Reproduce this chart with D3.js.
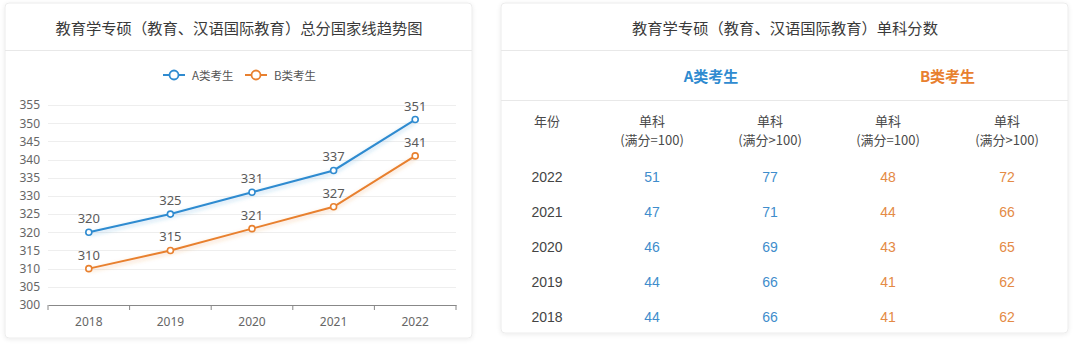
<!DOCTYPE html>
<html><head><meta charset="utf-8">
<script src="https://cdn.jsdelivr.net/npm/d3@7"></script>
<style>
html,body{margin:0;padding:0;background:#fff;}
svg{display:block;font-family:"Noto Sans CJK SC","Noto Sans",sans-serif;}
</style></head><body>
<svg id="c" width="1080" height="347"></svg>
<script>
const years = ["2018","2019","2020","2021","2022"];
const seriesA = [320,325,331,337,351];
const seriesB = [310,315,321,327,341];
const yTicks = [300,305,310,315,320,325,330,335,340,345,350,355];
const tableYears = ["2022","2021","2020","2019","2018"];
const aSingle100 = [51,47,46,44,44];
const aSingleOver = [77,71,69,66,66];
const bSingle100 = [48,44,43,41,41];
const bSingleOver = [72,66,65,62,62];
const leftTitle = "教育学专硕（教育、汉语国际教育）总分国家线趋势图";
const rightTitle = "教育学专硕（教育、汉语国际教育）单科分数";
const seriesNames = ["A类考生","B类考生"];

const BLUE = "#2f8bd0", ORANGE = "#e8802f";
const TBLUE = "#3f8dcc", TORANGE = "#e48a45";
const svg = d3.select("#c");
const defs = svg.append("defs");
const f = defs.append("filter").attr("id","sh").attr("x","-5%").attr("y","-5%").attr("width","110%").attr("height","110%");
f.append("feDropShadow").attr("dx",0).attr("dy",1).attr("stdDeviation",2).attr("flood-color","#000").attr("flood-opacity",0.08);
const g2 = defs.append("filter").attr("id","glowA").attr("x","-10%").attr("y","-20%").attr("width","120%").attr("height","140%");
g2.append("feDropShadow").attr("dx",0).attr("dy",2).attr("stdDeviation",2).attr("flood-color",BLUE).attr("flood-opacity",0.35);
const g3 = defs.append("filter").attr("id","glowB").attr("x","-10%").attr("y","-20%").attr("width","120%").attr("height","140%");
g3.append("feDropShadow").attr("dx",0).attr("dy",2).attr("stdDeviation",2).attr("flood-color",ORANGE).attr("flood-opacity",0.35);

// cards
svg.append("rect").attr("x",5).attr("y",3).attr("width",467).attr("height",335).attr("rx",4)
  .attr("fill","#fff").attr("stroke","#ececec").attr("filter","url(#sh)");
svg.append("rect").attr("x",501).attr("y",3).attr("width",567).attr("height",330).attr("rx",4)
  .attr("fill","#fff").attr("stroke","#ececec").attr("filter","url(#sh)");

// left title
svg.append("text").attr("x",239).attr("y",27).attr("text-anchor","middle").attr("dominant-baseline","central")
  .attr("font-size",15.3).attr("fill","#3a3a3a").text(leftTitle);
svg.append("line").attr("x1",5).attr("x2",472).attr("y1",50.5).attr("y2",50.5).attr("stroke","#e8e8e8");

// chart
const x = d3.scaleBand().domain(years).range([48,456]);
const y = d3.scaleLinear().domain([300,355]).range([305,105]);

const grid = svg.append("g");
grid.selectAll("line").data(yTicks.filter(t=>t>300)).join("line")
  .attr("x1",48).attr("x2",456).attr("y1",d=>Math.round(y(d))+0.5).attr("y2",d=>Math.round(y(d))+0.5)
  .attr("stroke","#eeeeee");

const yAxis = svg.append("g").attr("transform","translate(48,0)")
  .call(d3.axisLeft(y).tickValues(yTicks).tickSize(0).tickPadding(8));
yAxis.select(".domain").remove();
yAxis.selectAll("text").attr("font-size",12).attr("fill","#666").attr("font-family","'Noto Sans','DejaVu Sans',sans-serif");

const xAxis = svg.append("g").attr("transform","translate(0,305)")
  .call(d3.axisBottom(x).tickSize(0).tickPadding(12));
xAxis.select(".domain").attr("stroke","#888");
xAxis.selectAll("text").attr("font-size",12).attr("fill","#666").attr("font-family","'Noto Sans','DejaVu Sans',sans-serif");
xAxis.append("g").selectAll("line").data(years.concat(["end"])).join("line")
  .attr("x1",(d,i)=> i<years.length ? x(d) : x(years[years.length-1])+x.bandwidth())
  .attr("x2",(d,i)=> i<years.length ? x(d) : x(years[years.length-1])+x.bandwidth())
  .attr("y1",0).attr("y2",5).attr("stroke","#888");

const cx = d => x(d)+x.bandwidth()/2;
const line = d3.line().x(d=>cx(d.year)).y(d=>y(d.v));
const mk = arr => years.map((yr,i)=>({year:yr,v:arr[i]}));
[[seriesB,ORANGE,"glowB"],[seriesA,BLUE,"glowA"]].forEach(([arr,col,gl])=>{
  const data = mk(arr);
  svg.append("path").datum(data).attr("d",line).attr("fill","none").attr("stroke",col).attr("stroke-width",2).attr("filter",`url(#${gl})`);
  svg.append("g").selectAll("circle").data(data).join("circle")
    .attr("cx",d=>cx(d.year)).attr("cy",d=>y(d.v)).attr("r",3).attr("fill","#fff").attr("stroke",col).attr("stroke-width",1.6);
  svg.append("g").selectAll("text").data(data).join("text")
    .attr("x",d=>cx(d.year)).attr("y",d=>y(d.v)-9).attr("text-anchor","middle")
    .attr("font-size",13).attr("fill","#5a5a5a").attr("font-family","'Noto Sans','DejaVu Sans',sans-serif").text(d=>d.v);
});

// legend
const leg = svg.append("g");
[[seriesNames[0],BLUE,163],[seriesNames[1],ORANGE,245]].forEach(([name,col,lx])=>{
  leg.append("line").attr("x1",lx).attr("x2",lx+22).attr("y1",75).attr("y2",75).attr("stroke",col).attr("stroke-width",2);
  leg.append("circle").attr("cx",lx+11).attr("cy",75).attr("r",4.5).attr("fill","#fff").attr("stroke",col).attr("stroke-width",1.8);
  leg.append("text").attr("x",lx+29).attr("y",75).attr("dominant-baseline","central").attr("font-size",11.5).attr("fill","#555").text(name);
});

// right table
svg.append("text").attr("x",785).attr("y",27).attr("text-anchor","middle").attr("dominant-baseline","central")
  .attr("font-size",15.3).attr("fill","#3a3a3a").text(rightTitle);
svg.append("line").attr("x1",501).attr("x2",1068).attr("y1",50.5).attr("y2",50.5).attr("stroke","#e8e8e8");
svg.append("line").attr("x1",501).attr("x2",1068).attr("y1",100.5).attr("y2",100.5).attr("stroke","#e8e8e8");

const colX = [547,652,770,888,1007];
svg.append("text").attr("x",(colX[1]+colX[2])/2).attr("y",75).attr("text-anchor","middle").attr("dominant-baseline","central")
  .attr("font-size",15).attr("font-weight","bold").attr("fill",BLUE).text(seriesNames[0]);
svg.append("text").attr("x",(colX[3]+colX[4])/2).attr("y",75).attr("text-anchor","middle").attr("dominant-baseline","central")
  .attr("font-size",15).attr("font-weight","bold").attr("fill",ORANGE).text(seriesNames[1]);

const head = svg.append("g").attr("font-size",13).attr("fill","#4a4a4a").attr("text-anchor","middle");
head.append("text").attr("x",colX[0]).attr("y",120).attr("dominant-baseline","central").text("年份");
const subHeads = ["(满分=100)","(满分>100)","(满分=100)","(满分>100)"];
subHeads.forEach((s,i)=>{
  head.append("text").attr("x",colX[i+1]).attr("y",120).attr("dominant-baseline","central").text("单科");
  head.append("text").attr("x",colX[i+1]).attr("y",139).attr("dominant-baseline","central").text(s);
});

const rowY = d3.scalePoint().domain(tableYears).range([177,317]);
const cols = [[aSingle100,TBLUE],[aSingleOver,TBLUE],[bSingle100,TORANGE],[bSingleOver,TORANGE]];
const body = svg.append("g").attr("font-size",14).attr("text-anchor","middle").attr("font-family","'Liberation Sans','Noto Sans',sans-serif");
body.selectAll("text.yr").data(tableYears).join("text").attr("class","yr")
  .attr("x",colX[0]).attr("y",d=>rowY(d)).attr("dominant-baseline","central").attr("fill","#444").text(d=>d);
cols.forEach(([arr,col],ci)=>{
  body.append("g").selectAll("text").data(arr).join("text")
    .attr("x",colX[ci+1]).attr("y",(d,i)=>rowY(tableYears[i])).attr("dominant-baseline","central")
    .attr("fill",col).text(d=>d);
});
</script></body></html>
